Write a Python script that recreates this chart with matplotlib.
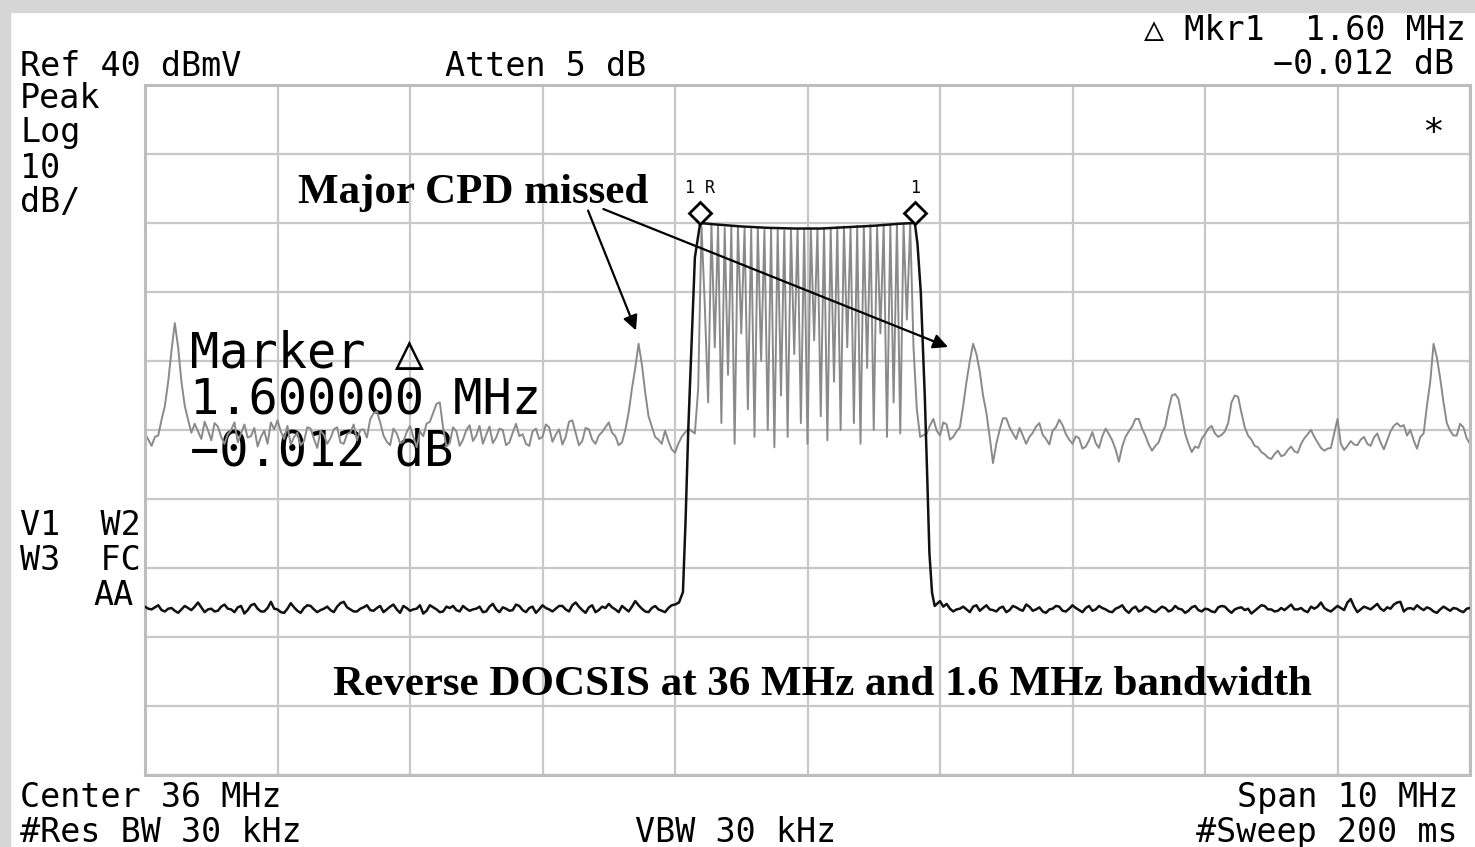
import matplotlib.pyplot as plt
import numpy as np
from matplotlib.patches import Rectangle

# spectrum analyser settings
center_mhz = 36.0
span_mhz = 10.0
ref_level = 40.0
db_per_div = 10.0

# gray trace (max hold, CPD products), dBmV, 25 kHz steps outside the carrier
gray_left = [-10.5, -11.4, -12.3, -11.0, -10.8, -8.5, -6.5, -3.0, 1.5, 5.5,
             2.0, -3.0, -6.5, -8.5, -10.4, -9.1, -10.2, -11.3, -8.8, -10.0,
             -11.5, -9.0, -9.5, -11.0, -12.0, -10.6, -10.0, -8.9, -11.8, -10.5,
             -9.2, -11.1, -10.9, -9.7, -12.4, -11.0, -10.1, -12.0, -8.9, -9.9,
             -8.6, -10.2, -11.3, -9.4, -12.1, -11.0, -10.4, -12.2, -11.6, -9.6,
             -9.8, -11.3, -12.6, -10.1, -10.7, -12.0, -11.2, -9.9, -9.6, -11.8,
             -12.0, -10.6, -10.3, -9.2, -11.5, -10.0, -9.9, -11.1, -8.4, -7.6,
             -7.3, -8.9, -10.8, -11.7, -12.2, -9.8, -10.5, -11.9, -11.7, -10.3,
             -9.4, -11.0, -12.5, -10.2, -10.9, -9.1, -8.8, -7.5, -6.2, -6.0,
             -9.7, -12.4, -11.9, -9.6, -10.2, -12.3, -11.4, -10.0, -9.3, -11.6,
             -10.8, -9.4, -12.0, -10.7, -9.5, -11.9, -11.1, -9.8, -10.0, -12.2,
             -11.8, -10.4, -9.1, -10.9, -10.6, -12.0, -12.3, -10.2, -9.8, -11.3,
             -11.0, -9.2, -9.6, -11.7, -10.7, -9.9, -12.1, -11.0, -8.8, -8.6,
             -10.4, -12.2, -11.6, -9.7, -9.9, -11.4, -12.0, -10.8, -10.3, -9.6,
             -8.9, -10.4, -10.9, -12.2, -11.8, -10.0, -7.5, -4.0, -1.0, 2.5,
             -0.5, -4.5, -8.0, -9.5, -11.0, -11.4, -12.0, -10.1, -11.6, -12.8,
             -13.3, -12.0, -11.0, -10.4, -9.8]
gray_band = [-10.5, -4.0, 19.5, 8.0, -6.0, 19.8, 2.0, 19.6, -9.0, 19.3,
             -2.0, 19.5, -12.0, 19.4, 4.0, 19.2, -7.0, 19.1, -11.0, 19.3,
             0.0, 19.0, -10.0, 19.1, -12.5, 19.0, -5.0, 18.9, -11.0, 19.0,
             1.0, 19.1, -9.0, 19.0, -12.0, 19.2, 3.0, 19.1, -8.0, 19.3,
             -11.5, 19.2, -3.0, 19.4, -10.0, 19.5, 2.0, 19.3, -9.0, 19.6,
             -12.0, 19.5, -1.0, 19.7, -10.0, 19.6, 4.0, 19.8, -11.0, 19.7,
             -6.0, 19.9, -10.5, 19.8, 6.0, 19.9, 2.0, -7.0, -11.0]
gray_right = [-10.5, -9.3, -8.4, -10.1, -10.8, -8.9, -9.2, -11.4, -11.0, -10.2,
              -9.6, -6.5, -3.0, 0.0, 2.5, 1.0, -1.5, -5.0, -7.5, -11.0,
              -14.8, -12.0, -10.0, -8.3, -8.3, -9.6, -10.5, -11.3, -9.7, -10.8,
              -12.0, -11.0, -10.4, -9.5, -9.0, -10.7, -11.3, -12.1, -10.1, -9.6,
              -8.5, -9.3, -10.6, -11.4, -12.0, -10.9, -11.2, -12.7, -12.4, -11.5,
              -10.3, -11.9, -12.6, -10.9, -9.8, -10.6, -11.5, -12.8, -14.6, -12.4,
              -11.0, -10.2, -9.5, -8.4, -8.4, -9.8, -10.8, -12.1, -13.0, -12.3,
              -11.8, -10.4, -9.5, -7.0, -5.0, -4.8, -5.5, -8.0, -10.5, -12.0,
              -13.2, -12.4, -12.6, -11.3, -10.6, -9.8, -9.4, -10.5, -11.0, -10.7,
              -10.2, -9.0, -6.0, -5.0, -5.2, -7.5, -9.6, -10.8, -11.4, -12.3,
              -12.5, -13.2, -13.5, -14.0, -14.2, -13.5, -13.0, -13.8, -13.6, -12.9,
              -12.4, -13.1, -13.3, -12.0, -11.2, -10.6, -10.0, -11.0, -11.8, -12.6,
              -13.0, -12.7, -12.6, -10.5, -8.4, -12.0, -12.9, -12.3, -11.6, -12.1,
              -12.2, -11.4, -11.0, -12.0, -12.3, -11.1, -10.5, -11.8, -12.8, -11.5,
              -10.2, -9.4, -9.0, -9.5, -9.3, -10.8, -10.0, -11.5, -12.7, -11.0,
              -10.5, -6.5, -3.0, 2.5, 0.5, -2.5, -6.0, -9.0, -10.1, -10.8,
              -10.8, -9.1, -9.6, -11.2, -12.0]

# black trace (clear write, DOCSIS carrier), dBmV
black_left = [-35.6, -35.9, -36.0, -35.7, -35.4, -36.1, -36.3, -35.9, -35.8, -36.2,
              -36.5, -36.0, -35.5, -35.8, -36.1, -35.6, -35.0, -35.7, -36.4, -36.0,
              -35.9, -36.3, -36.2, -35.6, -35.3, -35.9, -36.0, -36.4, -35.7, -35.5,
              -36.6, -36.1, -35.4, -35.2, -35.9, -36.3, -36.3, -35.8, -34.9, -35.9,
              -36.0, -36.4, -36.5, -35.9, -35.1, -35.7, -36.2, -36.5, -35.8, -35.4,
              -35.5, -36.0, -36.4, -36.1, -35.9, -35.6, -36.1, -36.4, -35.6, -35.1,
              -34.9, -35.7, -36.0, -36.3, -36.3, -35.9, -35.7, -35.4, -36.1, -36.2,
              -35.8, -35.5, -36.4, -36.0, -35.6, -35.3, -36.0, -36.5, -35.5, -35.8,
              -36.2, -36.0, -35.9, -35.4, -36.6, -36.2, -35.4, -35.7, -36.0, -36.4,
              -36.3, -35.6, -35.8, -35.5, -36.1, -36.3, -35.5, -35.9, -36.2, -36.0,
              -35.9, -35.6, -36.4, -36.3, -35.6, -35.2, -36.0, -36.4, -35.7, -35.9,
              -36.2, -36.1, -35.3, -35.5, -36.1, -36.4, -35.8, -35.6, -36.5, -36.0,
              -35.4, -35.8, -36.0, -36.3, -35.9, -35.5, -35.5, -36.0, -36.3, -35.4,
              -35.0, -35.6, -36.1, -36.5, -35.7, -35.4, -36.4, -36.1, -35.6, -35.8,
              -35.2, -35.7, -36.0, -36.4, -35.5, -35.9, -36.3, -35.6, -34.8, -35.4,
              -35.9, -36.3, -36.4, -35.8, -35.5, -36.0, -36.2, -36.4, -35.8, -35.4,
              -35.3]
black_edge_freq = [35.03, 35.06, 35.08, 35.10, 35.12, 35.15, 35.19, 35.30, 35.50, 35.70,
                   35.90, 36.10, 36.30, 36.50, 36.70, 36.81, 36.83, 36.855, 36.885, 36.905,
                   36.92, 36.94, 36.96]
black_edge = [-35.0, -33.5, -23.0, -10.0, 0.0, 15.0, 20.0, 19.8, 19.5, 19.3,
              19.2, 19.2, 19.4, 19.6, 19.9, 20.0, 17.0, 10.0, -5.0, -17.7,
              -27.8, -33.6, -35.5]
black_right = [-34.8, -35.6, -35.2, -35.9, -36.3, -36.0, -35.9, -35.6, -36.0, -36.4,
               -35.6, -35.4, -36.2, -35.8, -35.4, -36.0, -36.1, -36.3, -35.8, -35.6,
               -36.4, -36.1, -35.5, -35.7, -36.0, -36.2, -35.3, -35.6, -36.2, -36.0,
               -35.7, -36.3, -36.5, -36.0, -35.9, -35.5, -35.6, -36.2, -36.3, -35.9,
               -35.4, -35.8, -36.1, -36.4, -35.8, -35.5, -36.2, -36.0, -35.5, -35.8,
               -36.0, -36.3, -36.4, -35.9, -35.7, -35.4, -36.1, -36.5, -35.9, -35.6,
               -36.3, -36.1, -35.6, -35.8, -36.2, -36.4, -36.0, -35.6, -35.8, -36.3,
               -36.1, -35.5, -35.9, -36.0, -36.5, -36.2, -35.7, -35.5, -36.1, -36.3,
               -35.9, -36.0, -36.3, -36.4, -35.7, -35.5, -35.6, -36.1, -36.5, -36.0,
               -35.8, -35.7, -36.1, -35.9, -36.6, -36.2, -35.8, -35.4, -35.5, -36.0,
               -36.0, -36.3, -36.2, -35.8, -36.1, -35.7, -35.3, -36.0, -36.0, -35.8,
               -36.2, -36.4, -35.6, -35.9, -35.6, -35.0, -35.8, -36.1, -36.3, -35.9,
               -35.5, -35.8, -36.1, -35.0, -34.5, -35.6, -36.4, -36.0, -35.6, -35.8,
               -36.0, -35.6, -35.2, -35.9, -36.2, -35.7, -35.9, -35.3, -35.0, -34.9,
               -36.3, -35.9, -35.8, -36.0, -35.4, -35.8, -36.1, -35.7, -35.9, -36.3,
               -36.5, -36.0, -35.6, -35.9, -36.2, -35.8, -35.9, -36.2, -36.4, -35.9,
               -35.8]

# markers 1R and 1
marker_freq = [35.19, 36.81]
marker_level = [20.0, 20.0]
marker_labels = ['1R', '1']

W, H = 1475, 847
mono = 'DejaVu Sans Mono'
serif = 'Liberation Serif'

gray_freq = np.concatenate([np.linspace(31.0, 35.10, len(gray_left)),
                            np.linspace(35.15, 36.85, len(gray_band)),
                            np.linspace(36.90, 41.0, len(gray_right))])
gray = np.concatenate([gray_left, gray_band, gray_right])
black_freq = np.concatenate([np.linspace(31.0, 35.0, len(black_left)),
                             black_edge_freq,
                             np.linspace(37.0, 41.0, len(black_right))])
black = np.concatenate([black_left, black_edge, black_right])

fig = plt.figure(figsize=(W / 100, H / 100), dpi=100)
fig.patch.set_facecolor('white')
# screenshot frame
fig.patches.append(Rectangle((0, 1 - 12 / H), 1, 12 / H, transform=fig.transFigure, color='#d6d6d6', zorder=0))
fig.patches.append(Rectangle((0, 0), 10 / W, 1, transform=fig.transFigure, color='#d6d6d6', zorder=0))


def px_text(x, y, s, **kw):
    kw.setdefault('family', mono)
    kw.setdefault('fontsize', 24)
    fig.text(x / W, 1 - y / H, s, va='baseline', color='black', **kw)


ax = fig.add_axes([145 / W, 1 - 775 / H, 1325 / W, 690 / H])
lo = center_mhz - span_mhz / 2
hi = center_mhz + span_mhz / 2
ax.set_xlim(lo, hi)
ax.set_ylim(ref_level - 10 * db_per_div, ref_level)
ax.set_xticks(np.linspace(lo, hi, 11))
ax.set_yticks(np.linspace(ref_level - 10 * db_per_div, ref_level, 11))
ax.grid(color='#c8c8c8', lw=1.6)
ax.set_axisbelow(True)
ax.tick_params(length=0, labelbottom=False, labelleft=False)
for sp in ax.spines.values():
    sp.set_color('#bdbdbd')
    sp.set_linewidth(2.2)

# marker readout on screen
ax.text(31.34, -1.0, 'Marker \u25b3', family=mono, fontsize=35, zorder=1)
ax.text(31.34, -7.8, '1.600000 MHz', family=mono, fontsize=35, zorder=1)
ax.text(31.34, -15.1, '\u22120.012 dB', family=mono, fontsize=35, zorder=1)

ax.plot(gray_freq, gray, color='#8a8a8a', lw=1.4, zorder=2)
ax.plot(black_freq, black, color='#111111', lw=1.8, zorder=3)

for f, lvl, lab in zip(marker_freq, marker_level, marker_labels):
    ax.plot(f, lvl + 1.5, marker='D', ms=11, mfc='white', mec='black', mew=2, zorder=4)
    ax.text(f, lvl + 3.8, '\u2009'.join(lab), family=mono, fontsize=12, ha='center', va='bottom', zorder=4)

ax.text(41 - 0.28, 33.0, '*', family=mono, fontsize=26, ha='center', va='center')

# annotations
ax.text(31.0 + (298 - 145) / 132.5, 40 - (203 - 85) / 6.9, 'Major CPD missed',
        family=serif, fontweight='bold', fontsize=31, zorder=5)
ax.annotate('', xy=(34.713, 4.06), xytext=(34.336, 22.17),
            arrowprops=dict(arrowstyle='-|>', color='black', lw=1.6, mutation_scale=22), zorder=5)
ax.annotate('', xy=(37.08, 1.88), xytext=(34.44, 22.17),
            arrowprops=dict(arrowstyle='-|>', color='black', lw=1.6, mutation_scale=22), zorder=5)
ax.text(31.0 + (822 - 145) / 132.5, 40 - (695 - 85) / 6.9,
        'Reverse DOCSIS at 36 MHz and 1.6 MHz bandwidth',
        family=serif, fontweight='bold', fontsize=31, ha='center', va='baseline', zorder=5)

# analyser annotations around the graticule
px_text(1466, 40, '\u25b3 Mkr1  1.60 MHz', ha='right')
px_text(1454, 74, '\u22120.012 dB', ha='right')
px_text(20, 76, 'Ref 40 dBmV')
px_text(445, 76, 'Atten 5 dB')
px_text(20, 108, 'Peak')
px_text(20, 142, 'Log')
px_text(20, 178, '10')
px_text(20, 212, 'dB/')
px_text(20, 535, 'V1  W2')
px_text(20, 570, 'W3  FC')
px_text(134, 605, 'AA', ha='right')
px_text(20, 807, 'Center 36 MHz')
px_text(20, 842, '#Res BW 30 kHz')
px_text(635, 842, 'VBW 30 kHz')
px_text(1458, 807, 'Span 10 MHz', ha='right')
px_text(1458, 842, '#Sweep 200 ms', ha='right')

fig.savefig('out.png', dpi=100)
